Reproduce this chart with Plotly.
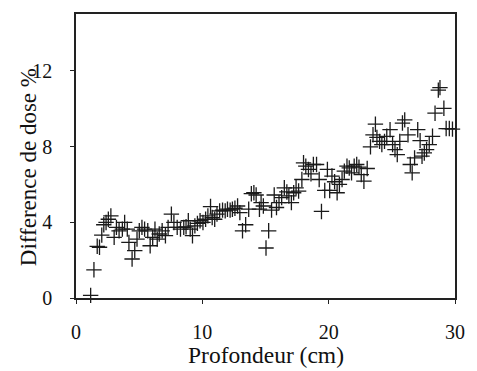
import plotly.graph_objects as go

depth_cm = [1.16, 1.42, 1.68, 1.86, 2.04, 2.20, 2.38, 2.56, 2.76, 3.02, 3.20, 3.41, 3.67, 3.85,
            4.06, 4.19, 4.44, 4.65, 4.83, 5.01, 5.22, 5.43, 5.68, 5.87, 6.07, 6.25, 6.43, 6.59,
            6.82, 7.08, 7.29, 7.55, 7.75, 8.01, 8.27, 8.53, 8.71, 8.89, 9.04, 9.22, 9.41, 9.61,
            9.82, 10.05, 10.26, 10.44, 10.65, 10.78, 10.98, 11.16, 11.37, 11.60, 11.81, 11.99,
            12.20, 12.38, 12.58, 12.79, 12.97, 13.18, 13.43, 13.67, 13.88, 14.08, 14.26, 14.52,
            14.65, 14.83, 15.04, 15.25, 15.48, 15.69, 15.87, 16.07, 16.28, 16.49, 16.69, 16.85,
            17.05, 17.23, 17.42, 17.62, 17.88, 18.01, 18.19, 18.40, 18.60, 18.79, 19.04, 19.25,
            19.43, 19.69, 19.90, 20.08, 20.26, 20.47, 20.67, 20.85, 21.06, 21.24, 21.45, 21.63,
            21.81, 22.02, 22.22, 22.40, 22.58, 22.79, 23.05, 23.31, 23.51, 23.70, 23.82, 24.03,
            24.21, 24.42, 24.60, 24.86, 25.06, 25.25, 25.43, 25.63, 25.84, 26.02, 26.28, 26.46,
            26.61, 26.80, 27.05, 27.24, 27.39, 27.57, 27.75, 27.96, 28.22, 28.42, 28.68, 28.81,
            29.12, 29.30, 29.55, 29.80]
dose_diff_pct = [0.14, 1.49, 2.73, 2.68, 3.32, 3.87, 3.99, 4.16, 4.34, 3.20, 3.73, 3.55, 3.64, 3.99,
                 3.64, 2.94, 2.06, 2.50, 3.11, 3.55, 3.73, 3.64, 3.55, 2.76, 3.20, 3.64, 3.11, 3.38,
                 3.55, 3.29, 3.73, 4.43, 3.99, 3.73, 3.64, 3.73, 3.76, 4.08, 3.64, 3.29, 3.81, 3.94,
                 4.08, 3.99, 4.16, 4.34, 4.83, 4.25, 4.16, 4.43, 4.60, 4.64, 4.60, 4.69,
                 4.64, 4.69, 4.74, 4.86, 4.51, 3.55, 3.87, 4.69, 5.51, 5.56, 5.44, 4.69,
                 5.04, 4.86, 2.64, 3.55, 4.64, 5.44, 4.78, 5.04, 5.30, 5.82, 5.60, 5.39,
                 5.04, 5.56, 5.82, 5.65, 6.26, 7.14, 6.96, 6.79, 6.56, 7.05, 7.05, 6.26,
                 4.57, 5.68, 6.79, 5.68, 6.44, 6.14, 5.56, 6.00, 6.26, 6.70, 6.96, 6.87,
                 6.61, 6.96, 7.05, 6.91, 6.52, 6.17, 6.84, 7.98, 8.62, 9.18, 8.48, 8.27,
                 8.10, 8.27, 8.54, 8.89, 8.10, 7.84, 7.57, 8.27, 9.24, 9.41, 8.62, 7.05,
                 6.61, 7.40, 8.89, 8.31, 7.49, 7.66, 7.84, 8.10, 8.54, 9.76, 10.98, 11.11,
                 10.02, 8.95, 8.95, 8.92]

x_ticks = [0, 10, 20, 30]
y_ticks = [0, 4, 8, 12]
x_title = "Profondeur (cm)"
y_title = "Difference de dose %"

font_family = "Liberation Serif"

fig = go.Figure()
fig.add_trace(go.Scatter(
    x=depth_cm, y=dose_diff_pct, mode="markers",
    marker=dict(symbol="cross-thin", size=11, line=dict(width=1.3, color="#1a1a1a")),
    showlegend=False, cliponaxis=False,
))

fig.update_layout(
    width=477, height=371,
    margin=dict(l=76, r=14, t=12, b=73),
    paper_bgcolor="white", plot_bgcolor="white",
    font=dict(family=font_family, size=20, color="#111"),
    xaxis=dict(
        range=[0, 30], tickvals=x_ticks, ticktext=[str(v) for v in x_ticks],
        showgrid=False, zeroline=False,
        showline=True, linecolor="#222", linewidth=1.5, mirror=True,
        ticks="outside", ticklen=4, tickcolor="#222", ticklabelstandoff=11,
    ),
    yaxis=dict(
        range=[0, 15], tickvals=y_ticks, ticktext=[str(v) for v in y_ticks],
        showgrid=False, zeroline=False,
        showline=True, linecolor="#222", linewidth=1.5, mirror=True,
        ticks="outside", ticklen=4, tickcolor="#222", ticklabelstandoff=14,
    ),
    annotations=[
        dict(text=x_title, xref="paper", yref="paper", x=0.5, y=-0.199,
             xanchor="center", yanchor="middle", showarrow=False,
             font=dict(family=font_family, size=23.5, color="#111")),
        dict(text=y_title, xref="paper", yref="paper", x=-0.127, y=0.46,
             xanchor="center", yanchor="middle", textangle=-90, showarrow=False,
             font=dict(family=font_family, size=23, color="#111")),
    ],
)

fig.write_html(
    "out.html",
    config={"displayModeBar": False},
    post_script="document.body.style.margin='0';document.body.style.overflow='hidden';",
)
